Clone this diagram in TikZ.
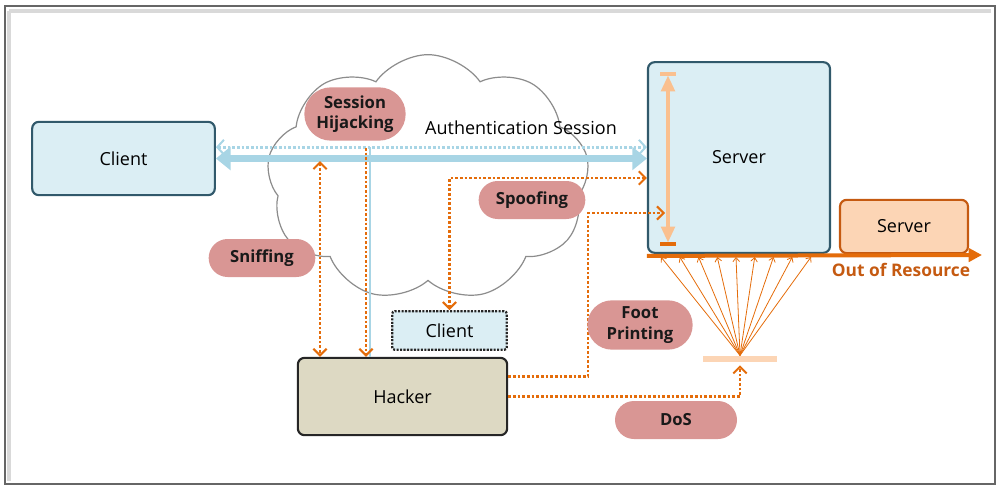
\documentclass[tikz,border=0pt]{standalone}
\usepackage{fontspec}
\setmainfont{Open Sans}
\usepackage{xcolor}
\usetikzlibrary{positioning,arrows.meta,shapes.misc,shapes.symbols}

\definecolor{boxfill}{HTML}{DBEEF4}
\definecolor{boxline}{HTML}{31596B}
\definecolor{sessblue}{HTML}{A8D5E5}
\definecolor{atkorange}{HTML}{E46C0A}
\definecolor{oortext}{HTML}{C55A11}
\definecolor{peach}{HTML}{FAC08F}
\definecolor{lightpeach}{HTML}{FCD5B5}
\definecolor{pillred}{HTML}{D99694}
\definecolor{hackfill}{HTML}{DDD9C3}

\tikzset{obarb/.tip={Straight Barb[length=5pt, width=10pt, line width=1.5pt]}}

\begin{document}
\begin{tikzpicture}[
  x=0.75pt, y=-0.75pt,
  box/.style={rectangle, rounded corners=5pt, draw=boxline, line width=1.6pt, fill=boxfill,
              font=\fontsize{13.5}{16}\selectfont, inner sep=0pt},
  pill/.style={rounded rectangle, fill=pillred, text=black!90, align=center, inner sep=0pt,
               font=\fontsize{12.5}{14}\selectfont\bfseries},
  dotarrow/.style={atkorange, dash pattern=on 2pt off 1.5pt, line width=2.1pt},
  sessline/.style={sessblue, line width=5.5pt, {Triangle[length=11pt, width=17pt]}-{Triangle[length=11pt, width=17pt]}},
  sessdot/.style={sessblue, dash pattern=on 2pt off 1.5pt, line width=2pt},
  fanline/.style={atkorange, line width=0.6pt, -{Straight Barb[length=3pt, width=5pt]}}
]
\useasboundingbox (0,0) rectangle (1000,486);

% Frame
\draw[black!15, line width=3pt] (9,11) -- (991,11);
\draw[black!15, line width=3pt] (9,11) -- (9,481);
\draw[black!60, line width=2pt] (5,6) rectangle (995,484);

% Network cloud
\node[cloud, cloud puffs=9, cloud puff arc=110, cloud ignores aspect, draw=black!45, line width=0.9pt, fill=white,
      minimum width=242pt, minimum height=185pt] (net) at (428,178) {};

% Hosts
\node[box, minimum width=137pt, minimum height=55pt] (client) at (123.5,158.5) {Client};
\node[box, minimum width=136.5pt, minimum height=143pt] (server) at (739,157.5) {Server};
\node[box, fill=lightpeach, draw=oortext, minimum width=96pt, minimum height=40pt] (server2) at (904,226.5) {Server};
\node[box, fill=hackfill, draw=black!85, minimum width=157pt, minimum height=58pt] (hacker) at (402.5,396.5) {Hacker};
\node[box, draw=black!85, densely dotted, line width=1.7pt, rounded corners=2pt,
      minimum width=86pt, minimum height=29pt] (client2) at (449.5,330.5) {Client};

% Authentication session
\draw[sessline] (client.east) -- (client.east -| server.west);
\draw[sessdot, {Straight Barb[length=5pt, width=11pt, line width=1.5pt]}-{Straight Barb[length=5pt, width=11pt, line width=1.5pt]}]
  ([yshift=8.5pt]client.east) -- ([yshift=8.5pt]client.east -| server.west);
\node[font=\fontsize{13.5}{16}\selectfont] (auth) at (521,128) {Authentication Session};

% Session hijacking
\coordinate (hjblue) at (370,147);
\coordinate (hjdot) at (366,148);
\draw[sessblue, line width=2pt] (hjblue) -- (hjblue |- hacker.north);
\draw[dotarrow, -obarb] (hjdot) -- (hjdot |- hacker.north);
\node[pill, minimum width=76pt, minimum height=40pt] (hijack) at (355,114) {Session\\[1.5pt]Hijacking};

% Sniffing
\coordinate (sniffup) at (320,161);
\draw[dotarrow, obarb-obarb] (sniffup) -- (sniffup |- hacker.north);
\node[pill, minimum width=80pt, minimum height=28.5pt] (sniff) at (262,258) {Sniffing};

% Spoofing
\coordinate (spoofy) at (450,178);
\draw[dotarrow, obarb-obarb] (client2.north) |- (spoofy -| server.west);
\node[pill, minimum width=80pt, minimum height=28.5pt] (spoof) at (532,200) {Spoofing};

% Foot printing
\coordinate (footturn) at (588,213);
\coordinate (footend) at (665,213);
\draw[dotarrow, -obarb] ([yshift=15pt]hacker.east) -| (footturn) -- (footend);
\node[pill, minimum width=79pt, minimum height=37pt] (foot) at (640,325) {Foot\\[1.5pt]Printing};

% DoS
\node[fill=lightpeach, inner sep=0pt, minimum width=56pt, minimum height=5pt] (bar) at (740,359) {};
\draw[dotarrow, -obarb] (hacker.east) -| ([yshift=-2pt]bar.south);
\node[pill, minimum width=91.5pt, minimum height=28.5pt] (dos) at (676,420) {DoS};
\foreach \i in {0,...,8}
  \draw[fanline] (bar.north) -- ({661+18.75*\i},257);

% Server queue
\coordinate (qtop) at (668,74);
\coordinate (qbot) at (668,244);
\draw[peach, line width=3.5pt, {Triangle[length=12pt, width=10pt]}-{Triangle[length=12pt, width=10pt]}]
  ([yshift=-1pt]qtop) -- ([yshift=1pt]qbot);
\draw[peach, line width=2.5pt] ([xshift=-6pt]qtop) -- ([xshift=6pt]qtop);
\draw[atkorange, line width=2.5pt] ([xshift=-6pt]qbot) -- ([xshift=6pt]qbot);

% Out of resource
\coordinate (oorend) at (982,255);
\draw[atkorange, line width=3pt, -{Triangle[length=10pt, width=10pt]}] ([yshift=-1.5pt]server.south west) -- (oorend);
\node[font=\fontsize{13}{16}\selectfont\bfseries, text=oortext] (oor) at (901,270) {Out of Resource};

\end{tikzpicture}
\end{document}
